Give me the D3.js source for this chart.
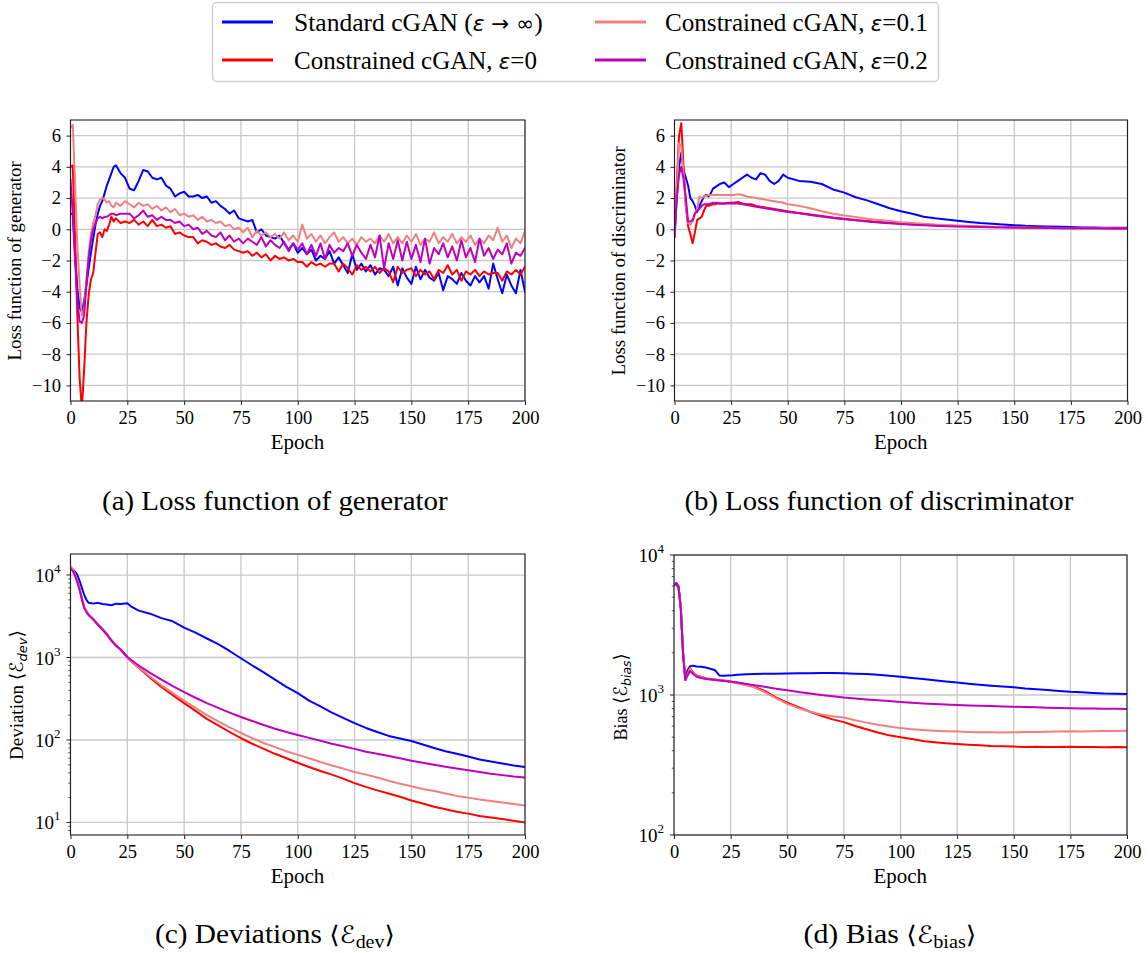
<!DOCTYPE html>
<html><head><meta charset="utf-8">
<script src="https://cdn.jsdelivr.net/npm/d3@7"></script>
<style>body{margin:0;background:#fff}</style>
</head><body>
<svg id="chart" width="1148" height="953" xmlns="http://www.w3.org/2000/svg"></svg>
<script>
// ---------------- DATA ----------------
const seriesLabels = ["Standard cGAN", "Constrained cGAN, ε=0", "Constrained cGAN, ε=0.1", "Constrained cGAN, ε=0.2"];
const seriesColors = ["#0000ff", "#ff0000", "#f08080", "#bf00bf"];
const epochTicks = [0, 25, 50, 75, 100, 125, 150, 175, 200];
const lossTicks = [-10, -8, -6, -4, -2, 0, 2, 4, 6];

// (a) generator loss
const genEpochs = d3.range(0, 21).concat(d3.range(22, 201, 2));
const genStandard = [1.0,1.0,-1.5,-3.8,-5.0,-5.3,-4.6,-3.6,-2.5,-1.5,-0.6,0.3,1.0,1.5,1.8,2.3,2.8,3.2,3.6,4.0,4.1,
 3.6,3.3,2.6,2.5,3.1,3.8,3.7,3.3,3.2,3.3,
 2.8,2.6,2.1,2.3,2.4,2.1,2.1,2.2,2.0,2.1,
 1.7,1.8,1.5,1.3,1.0,1.2,0.7,0.6,0.5,0.6,
 -0.2,0.0,-0.4,-0.5,-0.6,-0.4,-0.9,-1.3,-0.9,-1.5,
 -1.2,-1.6,-1.3,-2.0,-1.7,-1.9,-1.4,-2.2,-1.8,-2.3,
 -2.8,-1.6,-2.6,-2.2,-2.7,-2.3,-2.9,-2.5,-2.6,-3.0,
 -2.4,-3.6,-2.5,-3.1,-3.5,-2.4,-3.2,-2.6,-3.1,-3.3,
 -2.8,-3.9,-3.0,-3.2,-3.5,-2.8,-3.3,-3.6,-3.0,-3.4,
 -3.0,-3.8,-2.2,-3.2,-4.1,-2.9,-3.6,-4.1,-2.6,-4.0];
const genEps0 = [4.0,4.1,-0.5,-5.5,-9.5,-11.5,-9.0,-6.0,-4.2,-3.2,-2.8,-1.5,-0.3,-0.2,-0.5,0.0,-0.1,0.3,0.8,0.5,0.7,
 0.4,0.5,0.4,0.6,0.3,0.5,0.2,0.6,0.2,0.3,
 0.1,0.2,-0.3,-0.2,-0.4,-0.5,-0.5,-0.9,-0.7,-0.8,
 -1.0,-0.9,-1.1,-1.2,-1.0,-1.3,-1.4,-1.5,-1.4,-1.7,
 -1.5,-1.8,-1.6,-2.0,-1.7,-1.9,-1.8,-2.0,-1.9,-2.1,
 -2.1,-2.4,-2.1,-2.3,-2.2,-2.4,-2.2,-2.2,-2.7,-2.2,
 -2.5,-2.9,-2.3,-2.6,-2.4,-2.7,-2.4,-2.8,-2.5,-2.7,
 -3.4,-2.4,-2.8,-2.6,-2.5,-3.0,-2.6,-2.9,-2.7,-3.2,
 -2.6,-2.8,-2.3,-2.9,-2.6,-3.3,-2.7,-2.9,-2.6,-3.0,
 -2.7,-2.9,-2.8,-2.8,-3.3,-2.7,-2.9,-2.6,-2.9,-2.4];
const genEps01 = [6.5,6.7,3.0,-1.0,-3.5,-5.5,-5.2,-3.2,-1.5,-0.3,0.4,0.9,1.6,1.9,2.0,1.9,1.7,1.8,1.5,1.4,1.7,
 1.5,1.8,1.6,1.4,1.7,1.5,1.6,1.3,1.5,1.2,
 1.4,1.1,1.3,0.9,1.0,0.8,0.9,0.6,0.8,0.5,
 0.6,0.4,0.5,0.2,0.3,0.0,0.1,-0.2,0.1,-0.5,
 -0.1,-0.4,-0.2,-0.5,-0.3,-0.6,-0.2,-0.7,-0.4,-0.8,
 0.3,-0.6,-0.3,-0.8,-0.4,-0.9,-0.5,-0.2,-0.8,-0.5,
 -0.9,-0.6,-1.0,-0.5,-0.8,-0.6,-0.9,-0.4,-0.8,-0.3,
 -0.9,-0.5,-0.9,-0.4,-0.8,-0.3,-1.0,-0.6,-0.8,-0.2,
 -0.9,-0.5,-0.8,-0.3,-0.9,-0.5,-0.8,-0.4,-1.0,-0.6,
 -0.9,-0.4,-0.7,0.1,-0.8,-0.4,-1.2,-0.6,-0.9,-0.1];
const genEps02 = [3.2,1.0,-2.0,-4.5,-5.9,-6.0,-5.5,-3.5,-1.8,-0.7,0.0,0.4,0.7,0.8,0.7,0.8,0.8,0.9,1.0,1.0,0.9,
 1.0,1.0,1.0,0.7,0.9,1.2,0.8,0.9,0.6,0.8,
 0.6,0.6,0.4,0.5,0.2,0.3,0.0,0.1,-0.3,-0.1,
 -0.4,-0.5,-0.2,-0.7,-0.4,-0.8,-0.6,-0.9,-0.6,-0.8,
 -1.0,-0.5,-1.1,-0.7,-1.0,-1.2,-0.8,-1.4,-0.9,-1.3,
 -0.9,-1.6,-1.0,-1.7,-0.9,-1.9,-1.0,-1.5,-1.2,-1.4,
 -0.9,-1.7,-1.0,-1.5,-1.9,-1.0,-1.8,-0.4,-2.5,-0.9,
 -1.9,-0.7,-2.0,-0.8,-1.9,-1.0,-2.1,-0.6,-2.2,-1.2,
 -1.6,-0.9,-1.8,-1.1,-2.0,-0.7,-1.8,-1.2,-2.1,-0.6,
 -1.7,-1.2,-1.9,-1.3,-1.6,-0.9,-2.2,-1.5,-1.7,-1.2];

// (b) discriminator loss
const discEpochs = d3.range(0, 21).concat(d3.range(22, 51, 2), d3.range(55, 201, 5));
const discStandard = [-0.5,2.0,4.0,4.9,3.8,3.3,2.8,2.0,1.8,1.5,1.1,1.5,1.8,2.1,2.2,2.1,2.3,2.6,2.7,2.8,2.9,
 3.0,2.7,2.9,3.1,3.3,3.5,3.3,3.2,3.6,3.5,3.1,2.9,3.1,3.5,3.3,
 3.1,3.05,2.9,2.55,2.35,2.05,1.85,1.6,1.35,1.15,1.0,0.8,0.7,0.62,0.55,0.47,0.4,0.35,0.3,0.26,0.22,0.2,0.18,0.16,0.14,0.12,0.11,0.1,0.09,0.1];
const discEps0 = [-0.5,3.0,6.0,6.8,4.0,1.5,0.2,-0.3,-0.9,-0.2,0.6,0.7,0.8,1.2,1.5,1.5,1.55,1.6,1.6,1.65,1.65,
 1.65,1.7,1.7,1.75,1.65,1.6,1.6,1.5,1.45,1.4,1.35,1.3,1.25,1.2,1.15,
 1.05,0.95,0.85,0.75,0.67,0.6,0.53,0.47,0.42,0.37,0.32,0.29,0.26,0.23,0.21,0.19,0.17,0.15,0.14,0.12,0.11,0.1,0.09,0.08,0.07,0.07,0.06,0.06,0.05,0.05];
const discEps01 = [-0.5,2.5,5.5,5.3,3.5,1.5,0.4,0.3,0.5,1.0,1.3,2.1,2.0,2.1,2.15,2.2,2.2,2.2,2.2,2.2,2.2,
 2.2,2.2,2.2,2.25,2.2,2.1,2.05,2.0,1.95,1.9,1.85,1.8,1.75,1.7,1.6,
 1.5,1.35,1.15,1.0,0.88,0.78,0.68,0.6,0.53,0.45,0.4,0.35,0.3,0.27,0.24,0.21,0.18,0.16,0.14,0.12,0.11,0.1,0.09,0.08,0.07,0.07,0.06,0.06,0.05,0.05];
const discEps02 = [-0.5,2.0,3.5,4.0,3.2,2.0,0.5,0.5,0.6,1.0,1.2,1.3,1.5,1.6,1.6,1.6,1.65,1.7,1.7,1.7,1.65,
 1.65,1.65,1.65,1.65,1.6,1.55,1.5,1.45,1.4,1.35,1.3,1.25,1.2,1.15,1.1,
 1.02,0.92,0.82,0.72,0.64,0.57,0.5,0.44,0.38,0.33,0.29,0.26,0.23,0.2,0.18,0.16,0.14,0.13,0.12,0.11,0.1,0.09,0.08,0.07,0.07,0.06,0.06,0.05,0.05,0.05];

// (c) deviation (log scale)
const devEpochs = d3.range(0, 9).concat(d3.range(10, 23, 2), [25, 27], d3.range(30, 201, 5));
const devStandard = [12000,11500,11000,10000,8500,7000,5800,5000,4600, 4500,4600,4450,4400,4300,4500,4450, 4550,4100,
 3700,3400,3000,2750,2300,2000,1700,1450,1200,980,800,660,540,440,370,300,255,215,185,160,140,125,112,104,97,88,80,73,68,63,58,55,52,49,47];
const devEps0 = [12500,11500,10000,8500,6800,5200,4100,3600,3300, 2900,2500,2200,1900,1600,1400,1250, 1000,880,
 750,570,440,350,280,225,180,150,125,105,90,78,68,60,53,47,42,38,34,30,27,24.5,22.5,20.5,18.5,17,15.5,14.5,13.5,12.8,12,11.5,11,10.5,10];
const devEps01 = [12800,11800,10200,8600,6900,5300,4200,3700,3350, 2950,2550,2250,1950,1650,1420,1260, 1000,890,
 760,590,460,370,300,245,200,168,142,122,105,92,82,73,66,60,54,49,45,41,38,35,32,29.5,27.5,25.5,24,22.5,21,20,19,18.2,17.5,16.7,16];
const devEps02 = [12000,11200,9800,8200,6600,5100,4000,3550,3250, 2900,2500,2200,1900,1600,1400,1250, 1020,920,
 800,650,540,450,380,325,280,245,215,190,170,152,137,125,115,106,98,90,84,78,72,68,64,60,56,53,50,47.5,45,43,41,39,37.5,36,35];

// (d) bias (log scale)
const biasEpochs = d3.range(0, 11).concat(d3.range(12, 31, 2), d3.range(35, 201, 5));
const biasStandard = [6100,6300,6000,4200,2000,1300,1500,1600,1620,1610,1600, 1590,1570,1540,1510,1380,1370,1380,1385,1395,1400,
 1410,1420,1420,1425,1430,1430,1435,1435,1430,1420,1410,1395,1375,1350,1325,1300,1275,1250,1230,1205,1185,1165,1150,1135,1115,1100,1085,1070,1055,1045,1035,1025,1020,1015];
const biasEps0 = [6200,6100,5900,4200,2000,1280,1420,1560,1480,1420,1380, 1350,1320,1300,1290,1280,1270,1260,1240,1225,1210,
 1150,1070,960,880,820,760,710,670,640,600,570,540,515,500,485,470,460,452,447,442,438,432,430,428,426,427,425,426,427,425,426,424,426,424];
const biasEps01 = [6200,6100,5900,4200,2000,1280,1400,1540,1470,1410,1370, 1340,1310,1295,1285,1275,1265,1250,1235,1215,1195,
 1140,1050,950,865,805,760,725,705,690,660,635,612,595,580,570,562,556,551,548,545,543,542,540,542,544,545,547,548,550,549,552,554,553,556];
const biasEps02 = [6100,6200,5900,4100,1950,1280,1380,1480,1440,1390,1350, 1320,1300,1290,1280,1270,1260,1250,1240,1230,1215,
 1180,1145,1110,1080,1050,1025,1000,980,960,945,930,918,905,892,880,870,862,855,849,843,838,833,828,824,820,816,812,808,805,802,800,798,796,795];

// ---------------- DRAWING ----------------
const svg = d3.select("#chart");
const serif = "'Liberation Serif','Times New Roman',Times,serif";
const sans = "'DejaVu Sans',sans-serif";
const defs = svg.append("defs");
const ink = "#222";
const gridColor = "#c8c8c8";

function fitH(parent, x0, baseline, w, anchor, build) {
  const g = parent.append("g");
  const t = g.append("text").attr("x", 0).attr("y", 0).attr("font-family", serif).attr("fill", "#000");
  build(t);
  const bb = t.node().getBBox();
  const s = w / bb.width;
  const left = anchor === "middle" ? x0 - w / 2 : x0;
  g.attr("transform", `translate(${left},${baseline}) scale(${s},1) translate(${-bb.x},0)`);
  return g;
}
function fitV(parent, bx, cy, len, build) {
  const g = parent.append("g");
  const t = g.append("text").attr("x", 0).attr("y", 0).attr("font-family", serif).attr("fill", "#000");
  build(t);
  const bb = t.node().getBBox();
  const s = len / bb.width;
  g.attr("transform", `translate(${bx},${cy}) rotate(-90) scale(${s},1) translate(${-bb.x - bb.width / 2},0)`);
  return g;
}

const panels = [
  { id: "a", left: 70.5, right: 525, top: 120, bottom: 401, log: false, yDomain: [-11, 7], yTicks: lossTicks,
    epochs: genEpochs, series: [genStandard, genEps0, genEps01, genEps02] },
  { id: "b", left: 674.5, right: 1127.5, top: 120, bottom: 401, log: false, yDomain: [-11, 7], yTicks: lossTicks,
    epochs: discEpochs, series: [discStandard, discEps0, discEps01, discEps02] },
  { id: "c", left: 70.5, right: 525, top: 554, bottom: 835, log: true, yDomain: [Math.pow(10, 0.848), Math.pow(10, 4.255)], yTicks: [10, 100, 1000, 10000],
    epochs: devEpochs, series: [devStandard, devEps0, devEps01, devEps02] },
  { id: "d", left: 674, right: 1127, top: 555, bottom: 835, log: true, yDomain: [100, 10000], yTicks: [100, 1000, 10000],
    epochs: biasEpochs, series: [biasStandard, biasEps0, biasEps01, biasEps02] }
];

function drawPanel(P) {
  const g = svg.append("g");
  const x = d3.scaleLinear().domain([0, 200]).range([P.left, P.right]);
  const y = (P.log ? d3.scaleLog() : d3.scaleLinear()).domain(P.yDomain).range([P.bottom, P.top]);
  // grid
  g.append("g").selectAll("line").data(epochTicks).join("line")
    .attr("x1", d => x(d)).attr("x2", d => x(d)).attr("y1", P.top).attr("y2", P.bottom)
    .attr("stroke", gridColor).attr("stroke-width", 1.3);
  g.append("g").selectAll("line").data(P.yTicks).join("line")
    .attr("y1", d => y(d)).attr("y2", d => y(d)).attr("x1", P.left).attr("x2", P.right)
    .attr("stroke", gridColor).attr("stroke-width", 1.3);
  // clip
  const cid = "clip_" + P.id;
  defs.append("clipPath").attr("id", cid).append("rect")
    .attr("x", P.left).attr("y", P.top).attr("width", P.right - P.left).attr("height", P.bottom - P.top);
  const line = d3.line().x(d => x(d[0])).y(d => y(d[1]));
  const lg = g.append("g").attr("clip-path", `url(#${cid})`);
  P.series.forEach((vals, i) => {
    lg.append("path").datum(P.epochs.map((e, j) => [e, vals[j]]))
      .attr("d", line).attr("fill", "none").attr("stroke", seriesColors[i])
      .attr("stroke-width", 2).attr("stroke-linejoin", "round").attr("stroke-linecap", "round");
  });
  // spines
  g.append("rect").attr("x", P.left).attr("y", P.top).attr("width", P.right - P.left).attr("height", P.bottom - P.top)
    .attr("fill", "none").attr("stroke", ink).attr("stroke-width", 1.1);
  // x axis
  const xa = g.append("g").attr("transform", `translate(0,${P.bottom})`)
    .call(d3.axisBottom(x).tickValues(epochTicks).tickSize(4).tickPadding(6).tickFormat(d3.format("d")));
  xa.select(".domain").remove();
  xa.selectAll("line").attr("stroke", ink);
  xa.selectAll("text").attr("font-family", serif).attr("font-size", 18.5).attr("fill", "#000");
  // y axis
  if (!P.log) {
    const ya = g.append("g").attr("transform", `translate(${P.left},0)`)
      .call(d3.axisLeft(y).tickValues(P.yTicks).tickSize(4).tickPadding(5.5).tickFormat(d3.format("d")));
    ya.select(".domain").remove();
    ya.selectAll("line").attr("stroke", ink);
    ya.selectAll("text").attr("font-family", serif).attr("font-size", 18.5).attr("fill", "#000");
  } else {
    const [d0, d1] = P.yDomain;
    const minor = [];
    for (let k = 0; k <= 4; k++) for (let m = 2; m <= 9; m++) {
      const v = m * Math.pow(10, k);
      if (v > d0 && v < d1) minor.push(v);
    }
    g.append("g").selectAll("line").data(minor).join("line")
      .attr("x1", P.left - 2.2).attr("x2", P.left).attr("y1", d => y(d)).attr("y2", d => y(d))
      .attr("stroke", ink).attr("stroke-width", 0.8);
    g.append("g").selectAll("line").data(P.yTicks).join("line")
      .attr("x1", P.left - 4).attr("x2", P.left).attr("y1", d => y(d)).attr("y2", d => y(d))
      .attr("stroke", ink).attr("stroke-width", 1);
    const labs = g.append("g").selectAll("text").data(P.yTicks).join("text")
      .attr("x", P.left - 10).attr("y", d => y(d) + 7)
      .attr("text-anchor", "end").attr("font-family", serif).attr("font-size", 19).attr("fill", "#000");
    labs.append("tspan").text("10");
    labs.append("tspan").attr("dy", -9).attr("font-size", 13).text(d => Math.round(Math.log10(d)));
  }
  // Epoch label
  fitH(g, (P.left + P.right) / 2, P.bottom + 48, 54, "middle", t => t.attr("font-size", 21).text("Epoch"));
}

panels.forEach(drawPanel);

// y labels
fitV(svg, 21, 260.5, 200, t => t.attr("font-size", 19).text("Loss function of generator"));
fitV(svg, 624.5, 260.5, 230, t => t.attr("font-size", 19).text("Loss function of discriminator"));
fitV(svg, 22.5, 695, 130, t => {
  t.attr("font-size", 19);
  t.append("tspan").text("Deviation ");
  t.append("tspan").attr("font-family", sans).text("⟨ℰ");
  t.append("tspan").attr("font-family", sans).attr("font-style", "italic").attr("font-size", 13).attr("dy", 4).text("dev");
  t.append("tspan").attr("font-family", sans).attr("dy", -4).text("⟩");
});
fitV(svg, 627, 697, 87, t => {
  t.attr("font-size", 19);
  t.append("tspan").text("Bias ");
  t.append("tspan").attr("font-family", sans).text("⟨ℰ");
  t.append("tspan").attr("font-family", sans).attr("font-style", "italic").attr("font-size", 13).attr("dy", 4).text("bias");
  t.append("tspan").attr("font-family", sans).attr("dy", -4).text("⟩");
});

// captions
fitH(svg, 275, 510, 346, "middle", t => t.attr("font-size", 26.5).text("(a) Loss function of generator"));
fitH(svg, 879, 510, 389, "middle", t => t.attr("font-size", 26.5).text("(b) Loss function of discriminator"));
fitH(svg, 275, 943, 240, "middle", t => {
  t.attr("font-size", 26.5);
  t.append("tspan").text("(c) Deviations ");
  t.append("tspan").attr("font-family", sans).attr("font-size", 24).text("⟨ℰ");
  t.append("tspan").attr("font-size", 18).attr("dy", 5).text("dev");
  t.append("tspan").attr("font-family", sans).attr("font-size", 24).attr("dy", -5).text("⟩");
});
fitH(svg, 890, 943, 173, "middle", t => {
  t.attr("font-size", 26.5);
  t.append("tspan").text("(d) Bias ");
  t.append("tspan").attr("font-family", sans).attr("font-size", 24).text("⟨ℰ");
  t.append("tspan").attr("font-size", 18).attr("dy", 5).text("bias");
  t.append("tspan").attr("font-family", sans).attr("font-size", 24).attr("dy", -5).text("⟩");
});

// legend
const leg = svg.append("g");
leg.append("rect").attr("x", 212.5).attr("y", 2.5).attr("width", 726).attr("height", 79).attr("rx", 4)
  .attr("fill", "#fff").attr("stroke", "#cfcfcf").attr("stroke-width", 1.4);
const legendItems = [
  { i: 0, lx: 222, row: 22, tx: 294, w: 249 },
  { i: 1, lx: 222, row: 60, tx: 294, w: 243 },
  { i: 2, lx: 595, row: 22, tx: 665, w: 263 },
  { i: 3, lx: 595, row: 60, tx: 665, w: 263 }
];
legendItems.forEach(it => {
  leg.append("line").attr("x1", it.lx).attr("x2", it.lx + 51).attr("y1", it.row).attr("y2", it.row)
    .attr("stroke", seriesColors[it.i]).attr("stroke-width", 3);
  fitH(leg, it.tx, it.row + 8.5, it.w, "start", t => {
    t.attr("font-size", 26);
    const lab = seriesLabels[it.i];
    if (it.i === 0) {
      t.append("tspan").text(lab + " (");
      t.append("tspan").attr("font-family", sans).attr("font-style", "italic").attr("font-size", 22).text("ε");
      t.append("tspan").attr("font-family", sans).attr("font-size", 22).text(" → ∞");
      t.append("tspan").text(")");
    } else {
      const parts = lab.split("ε");
      t.append("tspan").text(parts[0]);
      t.append("tspan").attr("font-family", sans).attr("font-style", "italic").attr("font-size", 22).text("ε");
      t.append("tspan").text(parts[1]);
    }
  });
});
</script>
</body></html>
